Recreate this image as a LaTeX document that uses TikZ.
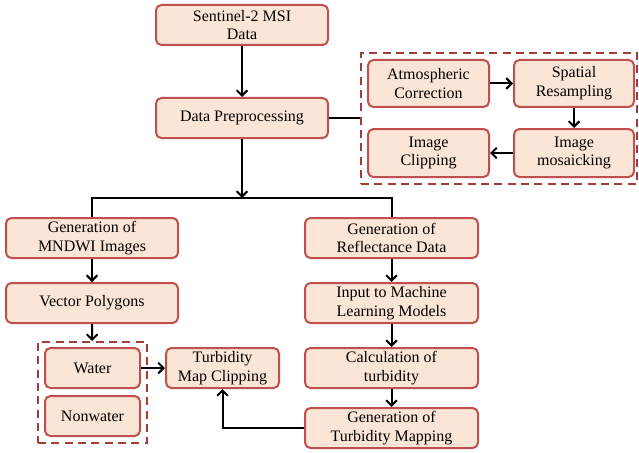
\documentclass[tikz,border=0pt]{standalone}
\usepackage{fontspec}
\setmainfont{Liberation Serif}
\usetikzlibrary{arrows.meta}
\definecolor{boxfill}{HTML}{FBE5D6}
\definecolor{boxdraw}{HTML}{C0504D}
\definecolor{dashdraw}{HTML}{A33B3B}
\begin{document}
\begin{tikzpicture}[x=0.75pt,y=-0.75pt,
  procbox/.style={draw=boxdraw,fill=boxfill,line width=1.5pt,rounded corners=4pt,
    inner sep=0pt,align=center,font=\fontsize{12}{14}\selectfont},
  conn/.style={line width=1.5pt,black},
  arr/.style={conn,-{Straight Barb[length=4pt,width=8pt,line width=1.5pt]}},
  groupbox/.style={draw=dashdraw,line width=1.5pt,dash pattern=on 6pt off 4pt}]
\useasboundingbox (0,0) rectangle (639,453);
% top
\node[procbox,minimum width=172*0.75pt,minimum height=40*0.75pt] (sent) at (242,25) {Sentinel-2 MSI\\Data};
\node[procbox,minimum width=172*0.75pt,minimum height=40*0.75pt] (dp) at (242,118) {Data Preprocessing};
% preprocessing group
\node[groupbox,minimum width=276*0.75pt,minimum height=131*0.75pt] (grp1) at (499,118.5) {};
\node[procbox,minimum width=121*0.75pt,minimum height=47*0.75pt] (atm) at (428.5,83.5) {Atmospheric\\Correction};
\node[procbox,minimum width=120*0.75pt,minimum height=47*0.75pt] (spa) at (574,83.5) {Spatial\\Resampling};
\node[procbox,minimum width=120*0.75pt,minimum height=48*0.75pt] (mos) at (574,153) {Image\\mosaicking};
\node[procbox,minimum width=121*0.75pt,minimum height=48*0.75pt] (clip) at (428.5,153) {Image\\Clipping};
% left column
\node[procbox,minimum width=172*0.75pt,minimum height=40*0.75pt] (mndwi) at (92,238) {Generation of\\MNDWI Images};
\node[procbox,minimum width=172*0.75pt,minimum height=40*0.75pt] (vp) at (92,303) {Vector Polygons};
\node[groupbox,minimum width=109*0.75pt,minimum height=101*0.75pt] (grp2) at (92.5,392.5) {};
\node[procbox,minimum width=95*0.75pt,minimum height=40*0.75pt] (water) at (92.5,368) {Water};
\node[procbox,minimum width=95*0.75pt,minimum height=40*0.75pt] (nonwater) at (92.5,416) {Nonwater};
\node[procbox,minimum width=113*0.75pt,minimum height=40*0.75pt] (tmc) at (222.5,368) {Turbidity\\Map Clipping};
% right column
\node[procbox,minimum width=173*0.75pt,minimum height=40*0.75pt] (refl) at (391.5,238) {Generation of\\Reflectance Data};
\node[procbox,minimum width=173*0.75pt,minimum height=40*0.75pt] (ml) at (391.5,303) {Input to Machine\\Learning Models};
\node[procbox,minimum width=173*0.75pt,minimum height=40*0.75pt] (calc) at (391.5,368) {Calculation of\\turbidity};
\node[procbox,minimum width=173*0.75pt,minimum height=40*0.75pt] (gtm) at (391.5,428) {Generation of\\Turbidity Mapping};
\coordinate (split) at (242,198);
% connectors
\draw[arr] (sent) -- (dp);
\draw[conn] (dp.east) -- (grp1.west |- dp.east);
\draw[arr] (atm) -- (spa);
\draw[arr] (spa) -- (mos);
\draw[arr] (mos) -- (clip);
\draw[arr] (dp) -- (split);
\draw[conn] (mndwi.north) |- (split) -| (refl.north);
\draw[arr] (mndwi) -- (vp);
\draw[arr] (vp) -- (grp2);
\draw[arr] (water) -- (tmc);
\draw[arr] (refl) -- (ml);
\draw[arr] (ml) -- (calc);
\draw[arr] (calc) -- (gtm);
\draw[arr] (gtm.west) -| (tmc.south);
\end{tikzpicture}
\end{document}
